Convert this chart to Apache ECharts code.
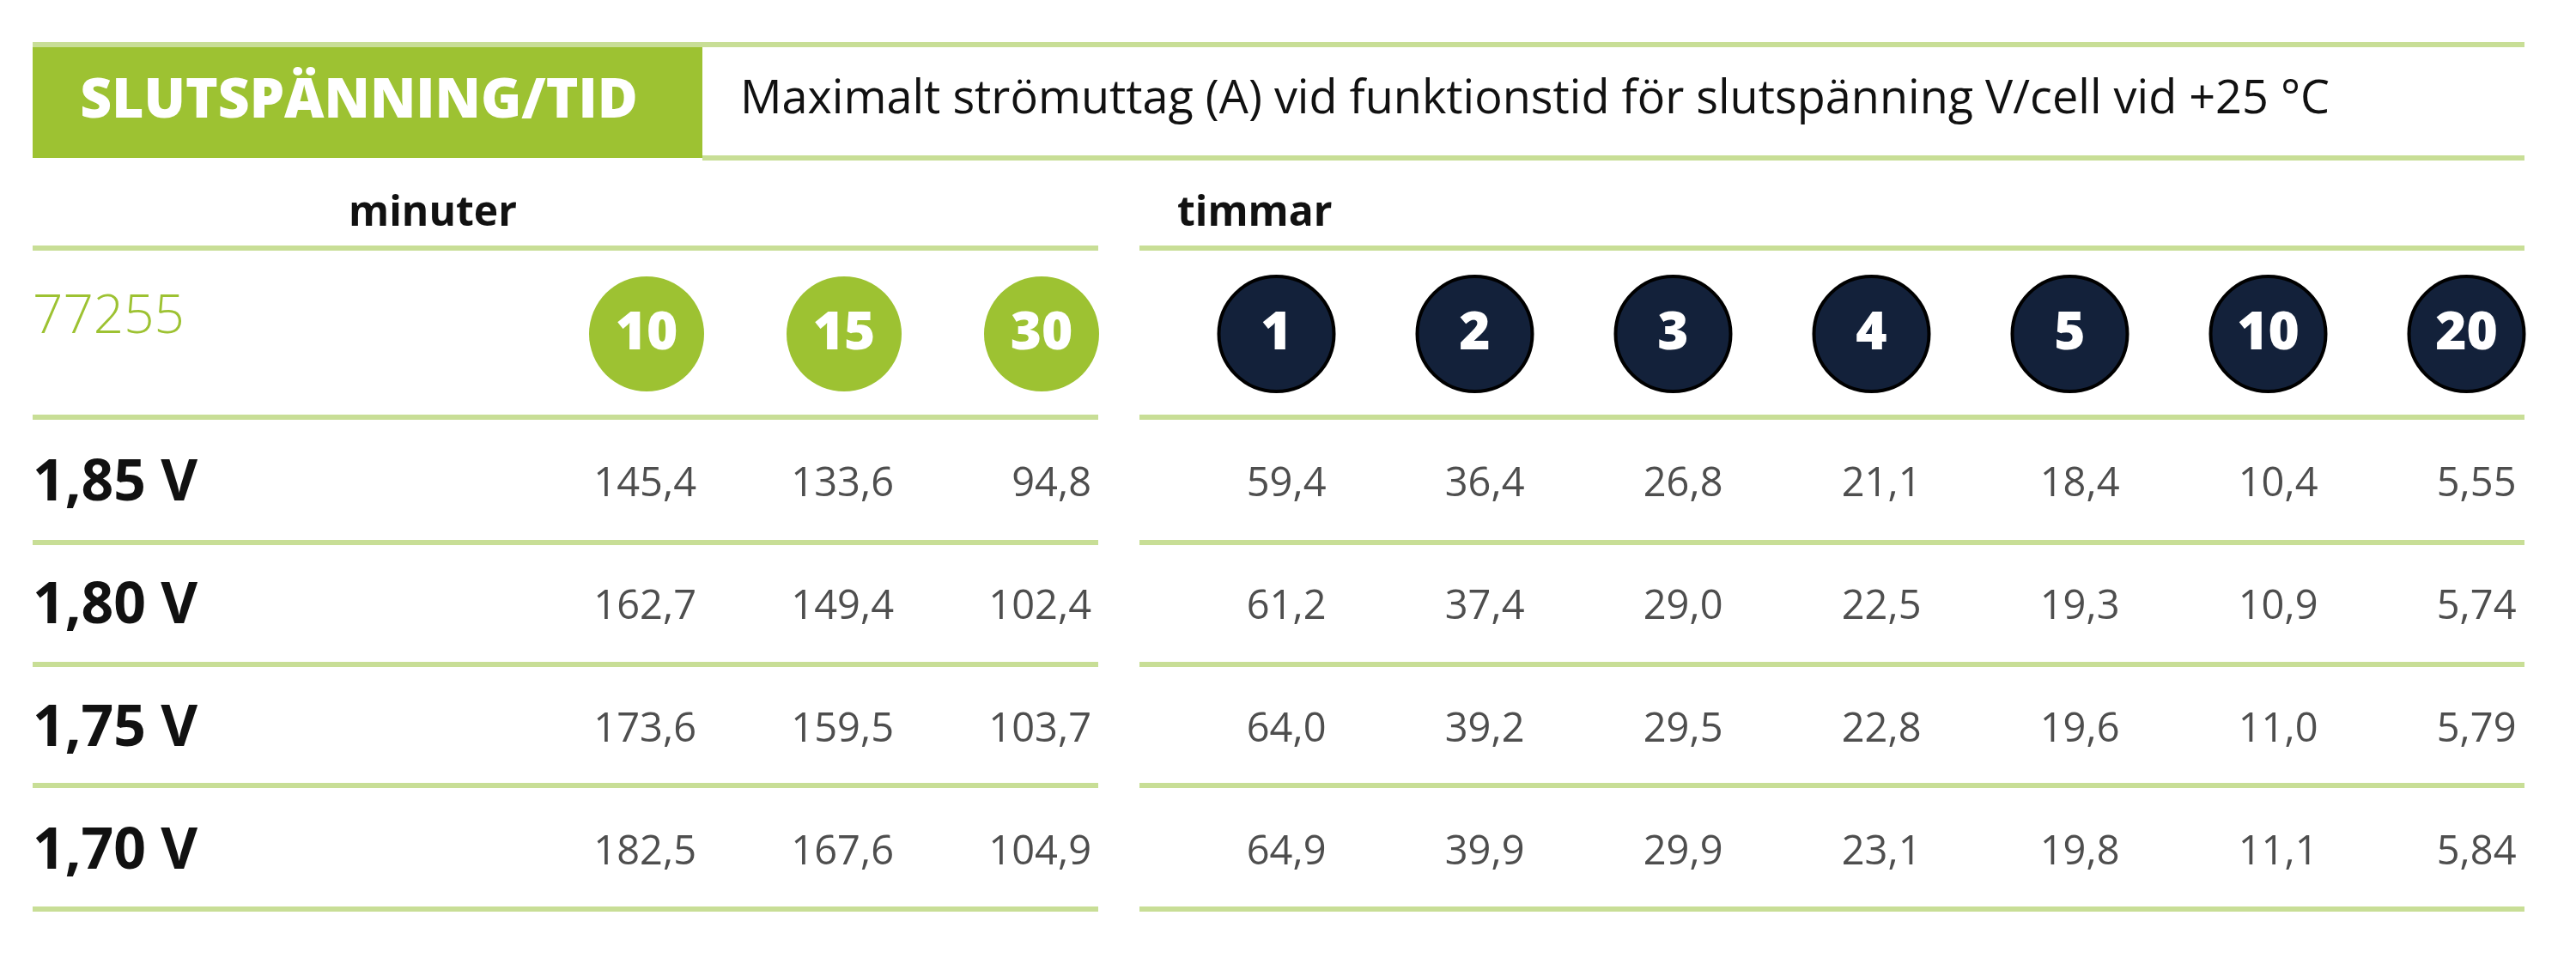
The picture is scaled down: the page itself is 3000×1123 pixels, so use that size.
<!DOCTYPE html>
<html><head><meta charset="utf-8">
<script src="https://cdn.jsdelivr.net/npm/echarts@6/dist/echarts.min.js"></script>
<style>html,body{margin:0;padding:0;background:#fff}#c{width:3000px;height:1123px}</style>
</head><body><div id="c"></div>
<script>
const title = 'SLUTSPÄNNING/TID';
const subtitle = 'Maximalt strömuttag (A) vid funktionstid för slutspänning V/cell vid +25 °C';
const model = '77255';
const minuteCols = ['10', '15', '30'];
const hourCols = ['1', '2', '3', '4', '5', '10', '20'];
const rows = ['1,85 V', '1,80 V', '1,75 V', '1,70 V'];
const minuteValues = [
  [145.4, 133.6, 94.8],
  [162.7, 149.4, 102.4],
  [173.6, 159.5, 103.7],
  [182.5, 167.6, 104.9]
];
const hourValues = [
  [59.4, 36.4, 26.8, 21.1, 18.4, 10.4, 5.55],
  [61.2, 37.4, 29.0, 22.5, 19.3, 10.9, 5.74],
  [64.0, 39.2, 29.5, 22.8, 19.6, 11.0, 5.79],
  [64.9, 39.9, 29.9, 23.1, 19.8, 11.1, 5.84]
];
const hourDecimals = [1, 1, 1, 1, 1, 1, 2];

const GREEN = '#9dc232', LINE = '#c8de96', NAVY = '#13213a';
const fmt = (v, d) => v.toFixed(d).replace('.', ',');

function cells(vals, cols, dec) {
  const out = [];
  vals.forEach((r, ri) => r.forEach((v, ci) => out.push({value:[cols[ci], rows[ri]], txt:fmt(v, dec ? dec[ci] : 1)})));
  return out;
}
const hidden = {show:false};
function catX(grid, cols) {
  return {type:'category', gridIndex:grid, data:cols, boundaryGap:true, axisLine:hidden, axisTick:hidden, axisLabel:hidden, splitLine:hidden};
}
function catY(grid, cats, showLabels) {
  return {type:'category', gridIndex:grid, data:cats, inverse:true, axisLine:hidden, axisTick:hidden, splitLine:hidden,
    axisLabel: showLabels ? {show:true, align:'left', margin:600, fontFamily:'Open Sans', fontWeight:'bold', fontSize:66, color:'#111'} : hidden};
}
function hline(x1, x2, y) {
  return {type:'line', shape:{x1, y1:y, x2, y2:y}, style:{stroke:LINE, lineWidth:6}};
}
const valLabel = {show:true, position:'inside', align:'right', offset:[58, 0], fontFamily:'Open Sans', fontSize:47, color:'#222', formatter:p=>p.data.txt};
const circLabel = {show:true, position:'inside', formatter:p=>p.value[0], fontFamily:'Open Sans', fontWeight:800, fontSize:62, color:'#fff'};

const opt = {
  animation:false,
  grid:[
    {left:638, width:690, top:322, height:134},
    {left:1371, width:1617, top:322, height:134},
    {left:638, width:690, top:493, height:572},
    {left:1371, width:1617, top:493, height:572}
  ],
  xAxis:[catX(0, minuteCols), catX(1, hourCols), catX(2, minuteCols), catX(3, hourCols)],
  yAxis:[catY(0, ['h']), catY(1, ['h']), catY(2, rows, true), catY(3, rows)],
  series:[
    {type:'scatter', xAxisIndex:0, yAxisIndex:0, symbolSize:134, itemStyle:{color:GREEN, opacity:1},
      data:minuteCols.map(c=>[c,'h']), label:circLabel},
    {type:'scatter', xAxisIndex:1, yAxisIndex:1, symbolSize:134, itemStyle:{color:NAVY, borderColor:'#000', borderWidth:4, opacity:1},
      data:hourCols.map(c=>[c,'h']), label:circLabel},
    {type:'scatter', xAxisIndex:2, yAxisIndex:2, symbolSize:1, itemStyle:{color:'rgba(0,0,0,0)'},
      data:cells(minuteValues, minuteCols), label:valLabel},
    {type:'scatter', xAxisIndex:3, yAxisIndex:3, symbolSize:1, itemStyle:{color:'rgba(0,0,0,0)'},
      data:cells(hourValues, hourCols, hourDecimals), label:valLabel}
  ],
  graphic:[
    {type:'rect', shape:{x:38, y:52, width:780, height:132}, style:{fill:GREEN}},
    {type:'text', x:418, y:119, style:{text:title, fill:'#fff', fontFamily:'Open Sans', fontWeight:800, fontSize:64, align:'center', verticalAlign:'middle'}},
    {type:'text', x:862, y:117, style:{text:subtitle, fill:'#111', fontFamily:'Open Sans', fontSize:54, verticalAlign:'middle'}},
    {type:'text', x:504, y:249, style:{text:'minuter', fill:'#111', fontFamily:'Open Sans', fontWeight:'bold', fontSize:48, align:'center', verticalAlign:'middle'}},
    {type:'text', x:1371, y:249, style:{text:'timmar', fill:'#111', fontFamily:'Open Sans', fontWeight:'bold', fontSize:48, verticalAlign:'middle'}},
    {type:'text', x:38, y:370, style:{text:model, fill:GREEN, fontFamily:'Open Sans', fontWeight:300, fontSize:62, verticalAlign:'middle'}},
    hline(38, 2940, 52), hline(818, 2940, 184),
    hline(38, 1279, 289), hline(1327, 2940, 289),
    hline(38, 1279, 486), hline(1327, 2940, 486),
    hline(38, 1279, 632), hline(1327, 2940, 632),
    hline(38, 1279, 774), hline(1327, 2940, 774),
    hline(38, 1279, 915), hline(1327, 2940, 915),
    hline(38, 1279, 1059), hline(1327, 2940, 1059)
  ]
};
echarts.init(document.getElementById('c')).setOption(opt);
</script></body></html>
